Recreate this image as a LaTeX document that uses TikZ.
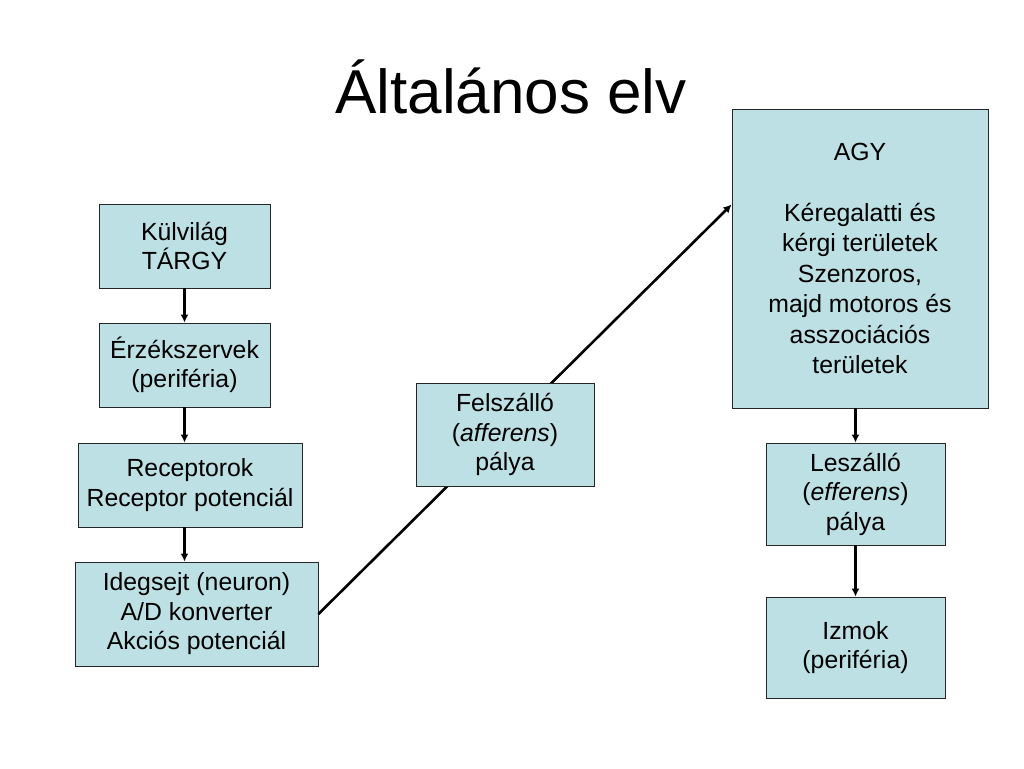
\documentclass[tikz,border=0pt]{standalone}
\usepackage{fontspec}
\setmainfont{Liberation Sans}
\usetikzlibrary{calc,arrows.meta,positioning}
\definecolor{boxfill}{RGB}{188,224,227}
\tikzset{
    box/.style={draw=black!85, line width=0.9pt, fill=boxfill, align=center,
        inner sep=0pt, font=\fontsize{24.8}{29.5}\selectfont}, % the light blue boxes
    flow/.style={line width=2.6pt, -{Latex[length=8pt,width=8pt]}}, % the arrows
}
\begin{document}
\begin{tikzpicture}[x=1pt,y=-1pt]
  \useasboundingbox (0,0) rectangle (1024,768);

  \node[anchor=base, font=\fontsize{62}{70}\selectfont] (title) at (511,113) {Általános elv};

  % left column
  \node[box, minimum width=171, minimum height=84]  (kulvilag) at (184.5,246) {Külvilág\\TÁRGY};
  \node[box, minimum width=171, minimum height=84]  (erzek)    at (184.5,365) {Érzékszervek\\(periféria)};
  \node[box, minimum width=224, minimum height=84]  (receptor) at (190,485)   {Receptorok\\Receptor potenciál};
  \node[box, minimum width=243, minimum height=104] (ideg)     at (196.5,614) {Idegsejt (neuron)\\A/D konverter\\Akciós potenciál};

  % right column
  \node[box, minimum width=256, minimum height=299, font=\fontsize{24.8}{30.5}\selectfont] (agy) at (860,258.5)
      {AGY\\[30.5pt]Kéregalatti és\\kérgi területek\\Szenzoros,\\majd motoros és\\asszociációs\\területek};
  \node[box, minimum width=179, minimum height=102] (leszallo) at (855.5,494)   {Leszálló\\(\textit{efferens})\\pálya};
  \node[box, minimum width=179, minimum height=101] (izmok)    at (855.5,647.5) {Izmok\\(periféria)};

  \path[flow]
    (kulvilag) edge (erzek)
    (erzek.south -| kulvilag.south) edge (receptor.north -| kulvilag.south)
    (receptor.south -| kulvilag.south) edge (ideg.north -| kulvilag.south)
    (leszallo.north |- agy.south) edge (leszallo.north)
    (leszallo) edge (izmok);

  \draw[flow] (ideg.east) -- ($(agy.north west)!0.32!(agy.south west)$);

  % drawn last so it lies over the line
  \node[box, minimum width=178, minimum height=103] (felszallo) at (505,434.5) {Felszálló\\(\textit{afferens})\\pálya};
\end{tikzpicture}
\end{document}
